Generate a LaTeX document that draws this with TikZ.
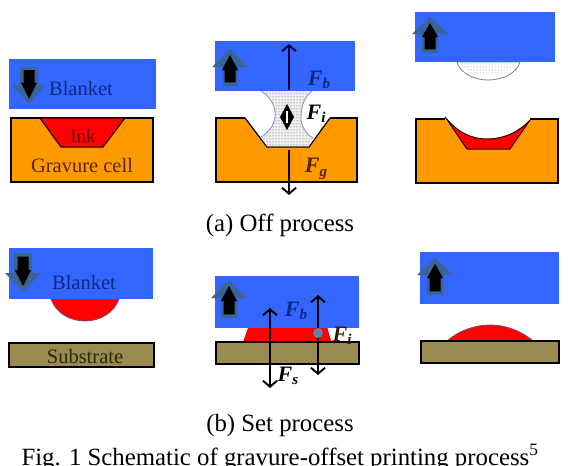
\documentclass[tikz,border=0pt]{standalone}
\usepackage{fontspec}
\setmainfont{Liberation Serif}
\usetikzlibrary{arrows.meta,patterns}
\definecolor{blanketblue}{HTML}{3366FF}
\definecolor{cellorange}{HTML}{FF9900}
\definecolor{subolive}{HTML}{998A50}
\definecolor{outerarrow}{HTML}{3A6496}
\definecolor{inkedge}{HTML}{7A4A70}
\definecolor{curveblue}{HTML}{7F93C8}
\definecolor{txtblue}{HTML}{0C2A80}
\definecolor{txtink}{HTML}{6A0A10}
\definecolor{txtcell}{HTML}{5A2600}
\definecolor{txtsub}{HTML}{2E2806}
\newcommand{\blockarrow}[7]{%
  \fill[outerarrow,line join=round] (#1,#2) -- (#1+#5,#3) -- (#1+#6,#3) -- (#1+#6,#4) -- (#1-#6,#4) -- (#1-#6,#3) -- (#1-#5,#3) -- cycle;
  \fill[black] (#1,#2+#7) -- (#1+8,#3+#7*0.5) -- (#1+5.5,#3+#7*0.5) -- (#1+5.5,#4-#7*0.6) -- (#1-5.5,#4-#7*0.6) -- (#1-5.5,#3+#7*0.5) -- (#1-8,#3+#7*0.5) -- cycle;}
\newcommand{\flabel}[2]{{\fontsize{22}{22}\selectfont\bfseries\itshape #1\raisebox{-0.35ex}{\fontsize{15}{15}\selectfont #2}}}
\tikzset{
  cellbody/.style={fill=cellorange,draw=black,line width=1.3pt,line join=miter},
  inkfill/.style={fill=red,draw=black!80!red,line width=1.2pt},
  substrate/.style={fill=subolive,draw=black,line width=1.3pt},
  inkdrop/.style={fill=red,draw=inkedge,line width=0.8pt},
  barb/.tip={Straight Barb[length=6pt,width=14pt,line width=1.9pt]},
  force/.style={draw=black,line width=1.5pt,barb-barb},
  forceup/.style={draw=black!75!blue,line width=1.5pt,-barb},
  forcedown/.style={draw=black,line width=1.5pt,-barb},
  lab/.style={inner sep=0pt,font=\fontsize{20.5}{20.5}\selectfont},
  captext/.style={inner sep=0pt,anchor=base,font=\fontsize{24.8}{24.8}\selectfont},
  dotted ink/.style={fill=gray!12,postaction={pattern=dots,pattern color=black!70}},
}
\begin{document}
\begin{tikzpicture}[x=1pt,y=-1pt]
\useasboundingbox (0,0) rectangle (568,466);
% --- A1
\fill[blanketblue] (9,59) rectangle (156,109);
\blockarrow{29}{104}{85}{67}{17}{9}{-5}
\node[lab,text=txtblue] (blanketA) at (81,88) {Blanket};
\draw[cellbody] (11,118) -- (153,118) -- (153,182) -- (11,182) -- cycle;
\draw[inkfill] (40,118) -- (125,118) -- (103,147) -- (61,147) -- cycle;
\node[lab,text=txtink,font=\fontsize{19}{19}\selectfont] (inkA) at (83,136) {Ink};
\node[lab,text=txtcell] (cellA) at (82,165) {Gravure cell};
% --- A2
\path[fill=cellorange] (216,118) -- (245,118) -- (267,147) -- (309,147) -- (330,118) -- (357,118) -- (357,182) -- (216,182) -- cycle;
\draw[black,line width=1.2pt,line join=miter] (245,118) -- (216,118) -- (216,182) -- (357,182) -- (357,118) -- (330,118);
\draw[black,line width=1.2pt] (245,118) -- (267,147) -- (309,147) -- (330,118);
\path[dotted ink] (261,91) .. controls (272,98) and (276,108) .. (275,117) .. controls (274,126) and (268,133) .. (261,137) -- (267,146) -- (309,146) -- (313,138) .. controls (306,134) and (301,126) .. (301,118) .. controls (301,107) and (304,97) .. (312,91) -- cycle;
\draw[curveblue,line width=0.8pt] (261,91) .. controls (272,98) and (276,108) .. (275,117) .. controls (274,126) and (268,133) .. (261,137);
\draw[curveblue,line width=0.8pt] (313,138) .. controls (306,134) and (301,126) .. (301,118) .. controls (301,107) and (304,97) .. (312,91);
\fill[blanketblue] (215,41) rectangle (355,91);
\blockarrow{230}{49}{67}{86}{18}{7.5}{6}
\coordinate (a2top) at (289,44);
\coordinate (a2mid) at (289,90);
\coordinate (a2low) at (289,150);
\coordinate (a2bot) at (289,195);
\draw[forceup] (a2mid) -- (a2top);
\draw[forcedown] (a2low) -- (a2bot);
\coordinate (a2iu) at (287,104);
\coordinate (a2id) at (287,130);
\fill[black] (a2iu) -- (294,117) -- (a2id) -- (280,117) -- cycle;
\draw[white,line width=1.2pt] (287,111) -- (287,123);
\node[inner sep=0pt,text=txtblue] (fba) at (319,80) {\flabel{F}{b}};
\node[inner sep=0pt,text=black] (fia) at (316,114) {\flabel{F}{i}};
\node[inner sep=0pt,text=black!70!orange] (fga) at (316,169) {\flabel{F}{g}};
% --- A3
\path[fill=cellorange] (416,119) -- (445,119) -- (467,149) -- (510,149) -- (530,119) -- (558,119) -- (558,183) -- (416,183) -- cycle;
\draw[black,line width=1.2pt,line join=miter] (445,119) -- (416,119) -- (416,183) -- (558,183) -- (558,119) -- (530,119);
\draw[inkfill,line width=1pt] (445,117) .. controls (458,133) and (472,139) .. (487,139) .. controls (505,139) and (520,131) .. (530,120) -- (510,149) -- (467,149) -- cycle;
\path[fill=white,draw=gray,line width=0.8pt] (457,62) .. controls (460,73) and (474,80) .. (488,80) .. controls (503,80) and (517,73) .. (520,62) -- cycle;
\path[pattern=dots,pattern color=black!45] (460,62) -- (517,62) -- (506,75) -- (472,75) -- cycle;
\fill[blanketblue] (415,12) rectangle (555,62);
\blockarrow{430}{17}{34}{53}{18}{8}{6}
% --- captions
\node[captext] (capa) at (280,231) {(a) Off process};
\node[captext] (capb) at (280,431) {(b) Set process};
\node[captext] (fig) at (280,465) {Fig. 1 Schematic of gravure-offset printing process\textsuperscript{5}};
% --- B1
\draw[inkdrop] (51,299) .. controls (56,313) and (70,321) .. (85,321) .. controls (100,321) and (114,313) .. (119,299) -- cycle;
\fill[blanketblue] (9,248) rectangle (153,299);
\blockarrow{23}{292}{273}{253}{18}{9}{-6}
\node[lab,text=txtblue] (blanketB) at (84,282) {Blanket};
\draw[substrate] (9,343) rectangle (154,367);
\node[lab,text=txtsub] (subB) at (85,356) {Substrate};
% --- B2
\fill[blanketblue] (215,276) rectangle (359,328);
\path[fill=red] (248,328) -- (327,328) -- (331,342) -- (243,342) -- cycle;
\draw[red!70!black,line width=0.6pt] (327,328) -- (331,342);
\draw[substrate] (216,342) rectangle (359,364);
\blockarrow{229}{280}{298}{318}{18}{8}{6}
\coordinate (b2au) at (270,308);
\coordinate (b2ad) at (270,388);
\coordinate (b2bu) at (318,295);
\coordinate (b2bd) at (318,375);
\draw[force] (b2au) -- (b2ad);
\draw[force] (b2bu) -- (b2bd);
\fill[outerarrow!80!white] (318,333) circle (5);
\node[inner sep=0pt,text=txtblue] (fbb) at (296,311) {\flabel{F}{b}};
\node[inner sep=0pt,text=black!80!orange] (fib) at (342,336) {\flabel{F}{i}};
\node[inner sep=0pt,text=black] (fsb) at (288,376) {\flabel{F}{s}};
% --- B3
\fill[blanketblue] (420,252) rectangle (559,304);
\blockarrow{435}{258}{275}{295}{18}{8}{6}
\draw[inkdrop] (447,341) .. controls (458,331) and (475,325) .. (490,325) .. controls (507,325) and (523,332) .. (533,341) -- cycle;
\draw[substrate] (421,341) rectangle (559,363);
\end{tikzpicture}
\end{document}
